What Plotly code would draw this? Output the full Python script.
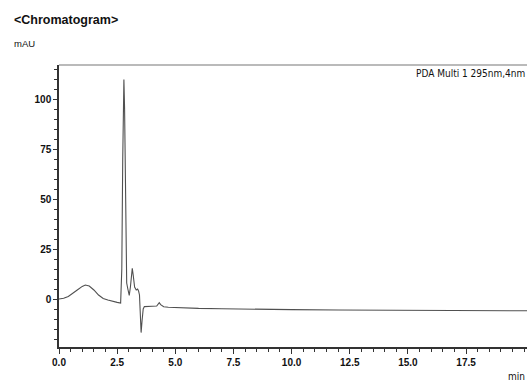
import plotly.graph_objects as go

# Retention time (min) and absorbance (mAU)
time_min = [0.0, 0.2, 0.4, 0.6, 0.8, 1.0, 1.13, 1.3, 1.5, 1.7, 1.9, 2.1, 2.3, 2.5, 2.65,
            2.7, 2.74, 2.77, 2.79, 2.82, 2.86, 2.91, 2.96, 3.02, 3.07, 3.12, 3.15, 3.19,
            3.25, 3.32, 3.38, 3.42, 3.46, 3.49, 3.53, 3.57, 3.62, 3.67, 3.8, 4.0, 4.2,
            4.26, 4.31, 4.37, 4.5, 4.7, 5.0, 6.0, 7.0, 8.0, 10.0, 12.0, 14.0, 16.0, 18.0, 20.2]
absorbance = [0.0, 0.4, 1.3, 2.8, 4.6, 6.3, 7.0, 6.5, 4.5, 2.0, 0.3, -0.5, -1.2, -1.7, -2.0,
              15.0, 70.0, 104.0, 109.8, 95.0, 45.0, 8.0, 5.0, 1.8, 6.0, 13.0, 15.3, 12.0,
              6.0, 4.5, 5.0, 4.0, 2.0, -6.0, -16.8, -11.0, -5.0, -3.8, -3.6, -3.6, -3.5,
              -2.8, -1.8, -2.8, -3.9, -4.1, -4.3, -4.7, -4.9, -5.1, -5.3, -5.5, -5.6, -5.7, -5.8, -5.9]

x_tick_vals = [0.0, 2.5, 5.0, 7.5, 10.0, 12.5, 15.0, 17.5]
x_tick_text = ["0.0", "2.5", "5.0", "7.5", "10.0", "12.5", "15.0", "17.5"]
y_tick_vals = [0, 25, 50, 75, 100]
y_tick_text = ["0", "25", "50", "75", "100"]

FONT = "Liberation Sans Narrow, DejaVu Sans Condensed, Liberation Sans, Arial, sans-serif"
TICKFONT = "Liberation Sans, Arial, sans-serif"

PLOT_W, PLOT_H = 468, 282

fig = go.Figure()
fig.add_trace(go.Scatter(x=time_min, y=absorbance, mode="lines",
                         line=dict(color="#505050", width=1.1), hoverinfo="skip"))

fig.update_layout(
    width=527, height=383,
    margin=dict(l=59, r=0, t=65, b=36, pad=0),
    paper_bgcolor="white", plot_bgcolor="white",
    showlegend=False,
    font=dict(family=TICKFONT, color="#111111", size=10),
    xaxis=dict(range=[0, 20.12], tickvals=x_tick_vals, ticktext=x_tick_text,
               showgrid=False, zeroline=False, showline=True, linecolor="#333333",
               linewidth=1.5, ticks="outside", ticklen=5, tickcolor="#333333",
               tickfont=dict(family=TICKFONT, size=10, color="#111111", weight="bold"),
               minor=dict(dtick=0.5, ticks="outside", ticklen=3, tickcolor="#333333")),
    yaxis=dict(range=[-24, 117], tickvals=y_tick_vals, ticktext=y_tick_text,
               showgrid=False, zeroline=False, showline=True, linecolor="#333333",
               linewidth=1.5, ticks="outside", ticklen=4, tickcolor="#333333",
               tickfont=dict(family=TICKFONT, size=10, color="#111111", weight="bold"),
               minor=dict(dtick=5, ticks="outside", ticklen=3, tickcolor="#333333")),
    shapes=[dict(type="line", xref="paper", yref="paper", x0=0, x1=1, y0=1, y1=1,
                 line=dict(color="#777777", width=1.2))],
    annotations=[
        dict(text="<b>&lt;Chromatogram&gt;</b>", xref="paper", yref="paper",
             x=-47/PLOT_W, y=1 + 45/PLOT_H, xanchor="left", yanchor="middle",
             showarrow=False, font=dict(family=TICKFONT, size=12.5, color="#111111")),
        dict(text="mAU", xref="paper", yref="paper",
             x=-47/PLOT_W, y=1 + 22/PLOT_H, xanchor="left", yanchor="middle",
             showarrow=False, font=dict(family=TICKFONT, size=9.5, color="#111111")),
        dict(text="PDA Multi 1 295nm,4nm", xref="paper", yref="paper",
             x=1.0, y=1 - 8/PLOT_H, xanchor="right", yanchor="middle",
             showarrow=False, font=dict(family=FONT, size=10, color="#111111")),
        dict(text="min", xref="paper", yref="paper",
             x=1.0, y=-29/PLOT_H, xanchor="right", yanchor="middle",
             showarrow=False, font=dict(family=FONT, size=10, color="#111111")),
    ],
)

fig.write_html("out.html", config={"displayModeBar": False},
               post_script="document.body.style.margin='0';document.body.style.overflow='hidden';")
